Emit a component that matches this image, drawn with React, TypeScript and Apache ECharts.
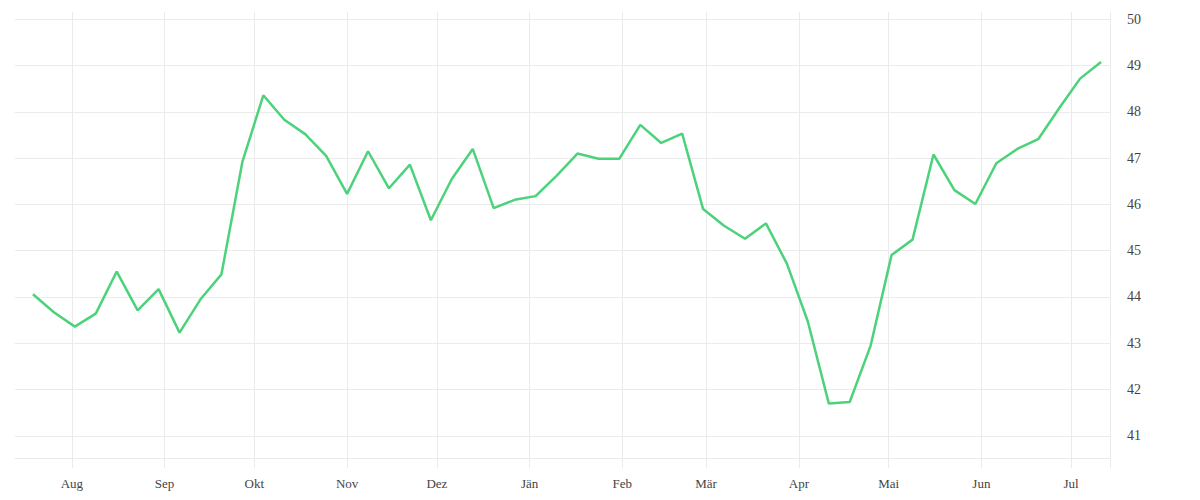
import React, { useEffect, useRef } from "react";
import * as echarts from "echarts";

const weekDates: string[] = [
  "2020-07-19", "2020-07-26", "2020-08-02", "2020-08-09", "2020-08-16", "2020-08-23", "2020-08-30",
  "2020-09-06", "2020-09-13", "2020-09-20", "2020-09-27", "2020-10-04", "2020-10-11", "2020-10-18",
  "2020-10-25", "2020-11-01", "2020-11-08", "2020-11-15", "2020-11-22", "2020-11-29", "2020-12-06",
  "2020-12-13", "2020-12-20", "2020-12-27", "2021-01-03", "2021-01-10", "2021-01-17", "2021-01-24",
  "2021-01-31", "2021-02-07", "2021-02-14", "2021-02-21", "2021-02-28", "2021-03-07", "2021-03-14",
  "2021-03-21", "2021-03-28", "2021-04-04", "2021-04-11", "2021-04-18", "2021-04-25", "2021-05-02",
  "2021-05-09", "2021-05-16", "2021-05-23", "2021-05-30", "2021-06-06", "2021-06-13", "2021-06-20",
  "2021-06-27", "2021-07-04", "2021-07-11",
];

const values: number[] = [
  44.06, 43.67, 43.36, 43.64, 44.55, 43.71, 44.17, 43.23, 43.95, 44.49,
  46.92, 48.36, 47.83, 47.52, 47.05, 46.23, 47.15, 46.35, 46.86, 45.66,
  46.55, 47.2, 45.92, 46.1, 46.18, 46.62, 47.1, 46.99, 46.99, 47.72,
  47.33, 47.53, 45.9, 45.54, 45.26, 45.59, 44.72, 43.47, 41.7, 41.73,
  42.95, 44.91, 45.24, 47.08, 46.31, 46.01, 46.89, 47.2, 47.41, 48.08,
  48.72, 49.08,
];

const monthTicks: string[] = [
  "2020-08-01", "2020-09-01", "2020-10-01", "2020-11-01", "2020-12-01", "2021-01-01",
  "2021-02-01", "2021-03-01", "2021-04-01", "2021-05-01", "2021-06-01", "2021-07-01",
];

const monthNames: string[] = ["Jän", "Feb", "Mär", "Apr", "Mai", "Jun", "Jul", "Aug", "Sep", "Okt", "Nov", "Dez"];

const xMinDate = "2020-07-13";
const xMaxDate = "2021-07-14";
const yMin = 40.52;
const yMax = 50.16;

const ts = (s: string) => Date.parse(s + "T00:00:00Z");

export default function App() {
  const ref = useRef<HTMLDivElement>(null);
  useEffect(() => {
    if (!ref.current) return;
    const chart = echarts.init(ref.current, undefined, { renderer: "svg" });
    const gridColor = "#ebebeb";
    const font = "'Liberation Serif', 'DejaVu Serif', serif";
    const xMin = ts(xMinDate);
    const xMax = ts(xMaxDate);
    const monthTs = monthTicks.map(ts);
    chart.setOption({
      animation: false,
      backgroundColor: "#ffffff",
      grid: { left: 15, right: 90, top: 12, bottom: 42, containLabel: false },
      xAxis: {
        type: "value",
        min: xMin,
        max: xMax,
        axisLine: { show: true, onZero: false, lineStyle: { color: gridColor, width: 1 } },
        axisTick: {
          show: true,
          inside: false,
          length: 10,
          customValues: [...monthTs, xMax],
          lineStyle: { color: gridColor, width: 1 },
        },
        splitLine: { show: true, lineStyle: { color: gridColor, width: 1 } },
        axisLabel: {
          customValues: monthTs,
          margin: 19,
          color: "#444",
          fontSize: 13,
          fontFamily: font,
          formatter: (v: number) => monthNames[new Date(v).getUTCMonth()],
        },
      },
      yAxis: {
        type: "value",
        position: "right",
        min: yMin,
        max: yMax,
        splitNumber: 10,
        minInterval: 1,
        maxInterval: 1,
        axisLine: { show: false },
        axisTick: { show: false },
        splitLine: {
          show: true,
          showMinLine: false,
          showMaxLine: false,
          lineStyle: { color: gridColor, width: 1 },
        },
        axisLabel: {
          showMinLabel: false,
          showMaxLabel: false,
          margin: 17,
          padding: [3, 0, 0, 0],
          color: "#444",
          fontSize: 14,
          fontFamily: font,
          formatter: (v: number) => String(Math.round(v)),
        },
      },
      series: [
        {
          type: "line",
          data: weekDates.map((d, i) => [ts(d), values[i]]),
          showSymbol: false,
          symbol: "none",
          lineStyle: { color: "#4cd27b", width: 2.5 },
          itemStyle: { color: "#4cd27b" },
        },
      ],
    });
    return () => chart.dispose();
  }, []);
  return (
    <div
      ref={ref}
      style={{ position: "fixed", left: 0, top: 0, width: 1200, height: 500, background: "#fff" }}
    />
  );
}
